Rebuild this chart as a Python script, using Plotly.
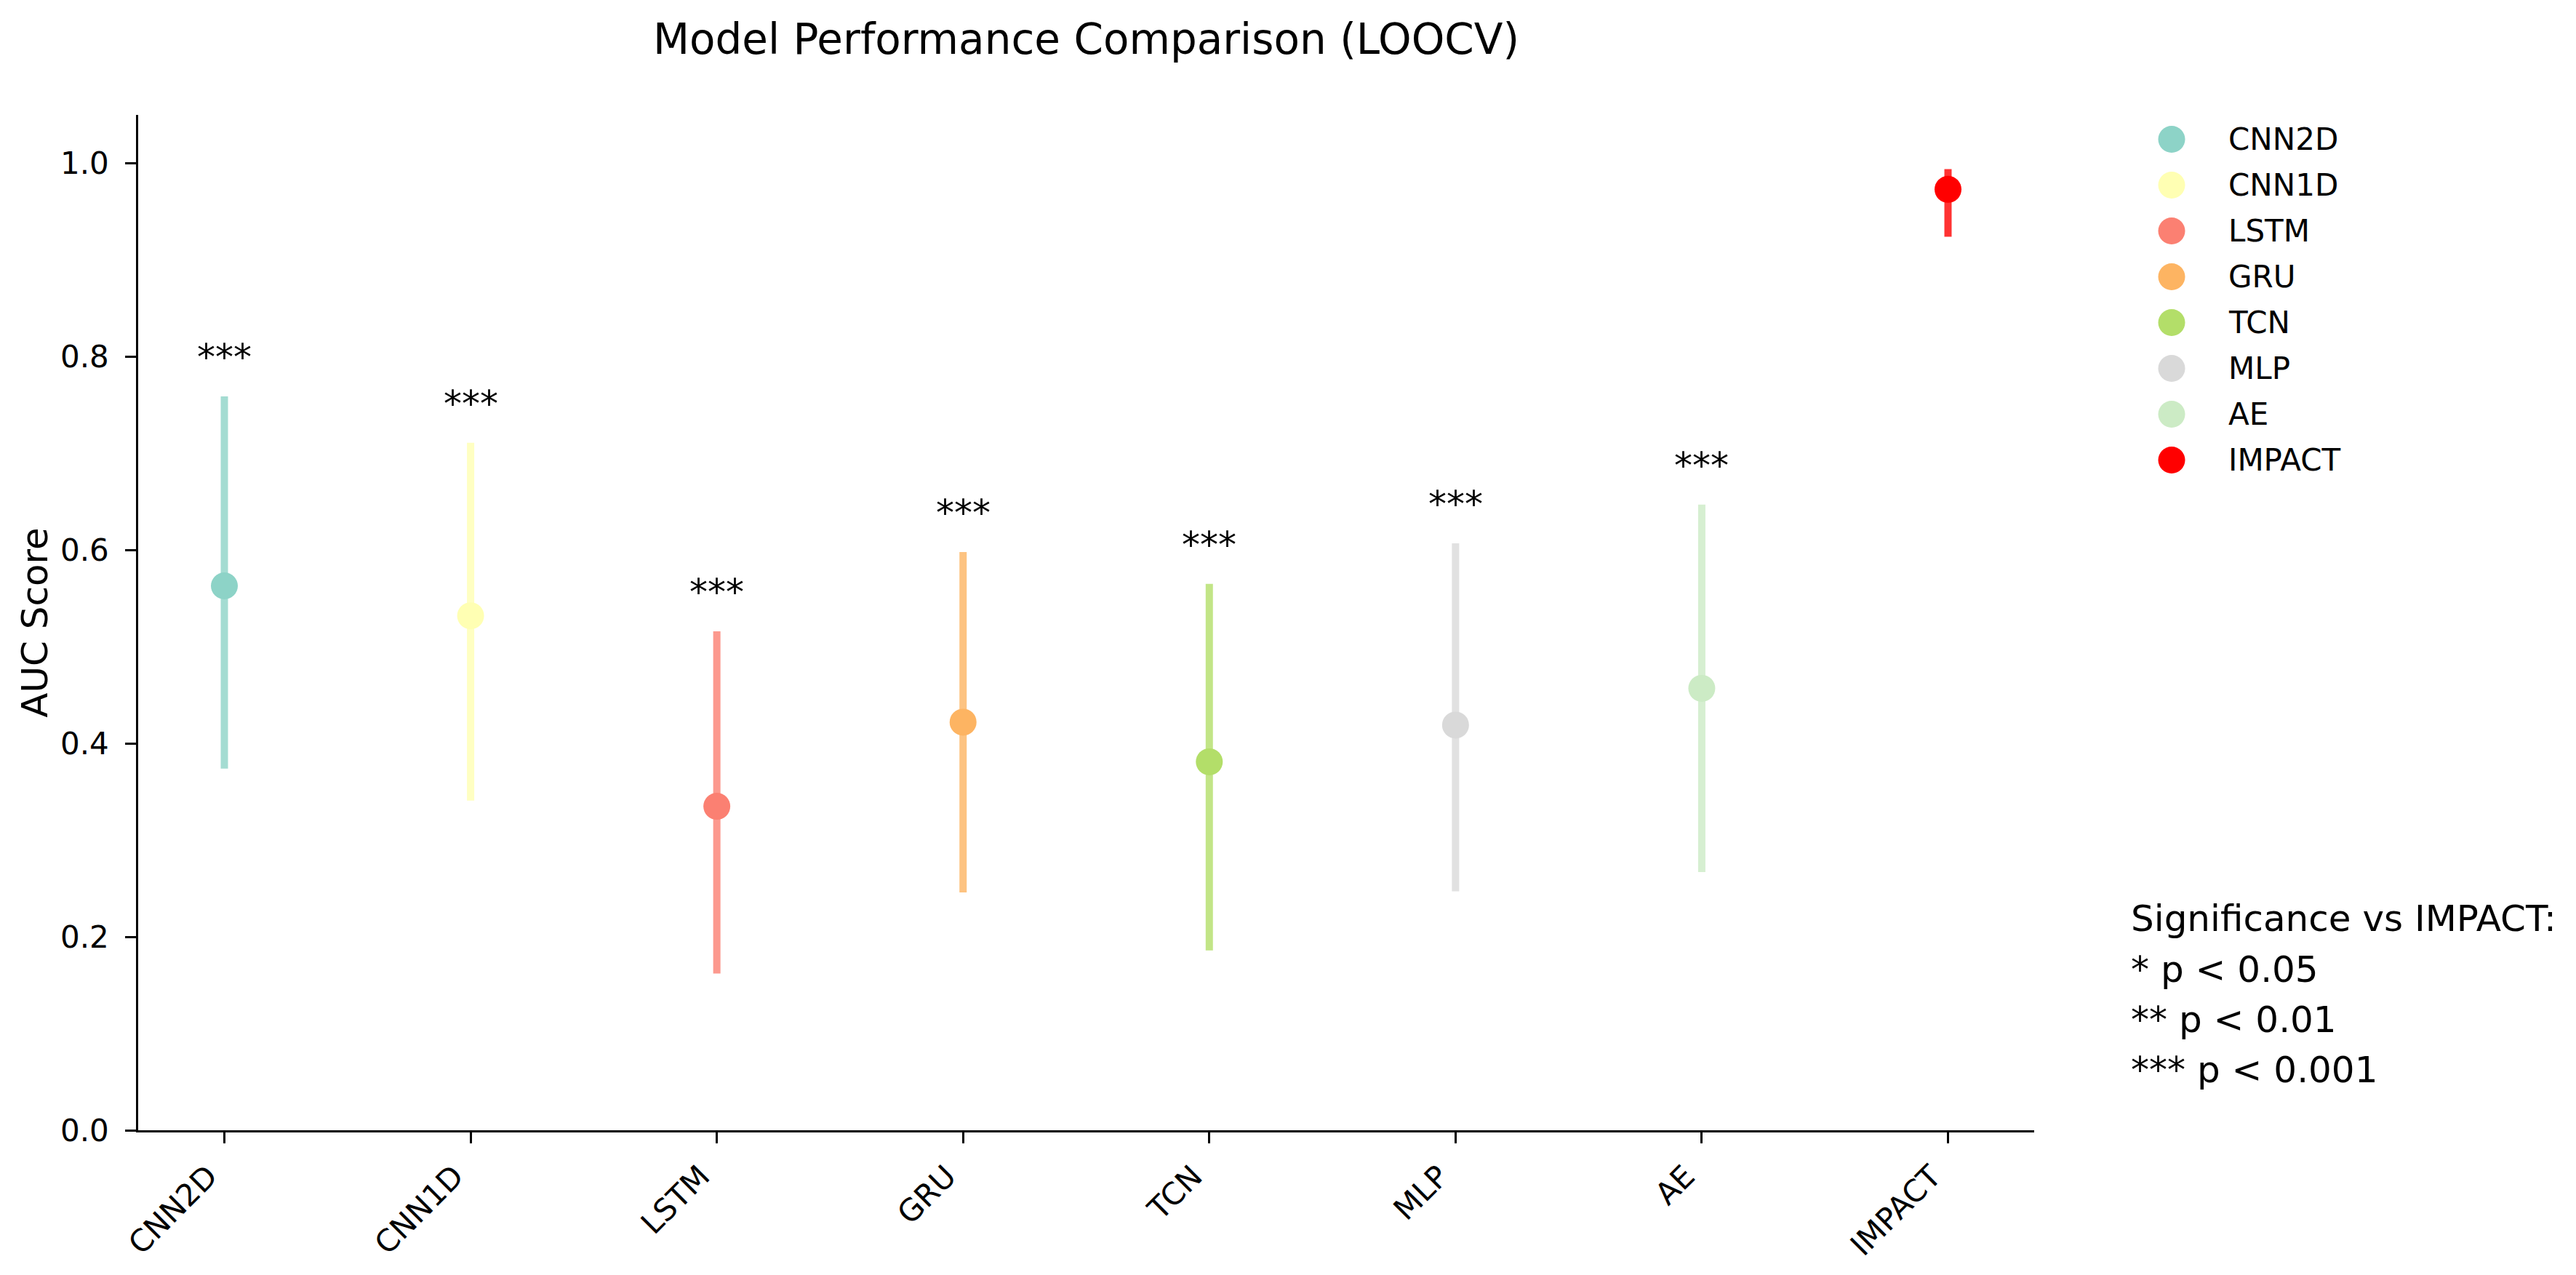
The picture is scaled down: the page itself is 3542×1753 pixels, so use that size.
import plotly.graph_objects as go

# ---- data ----
models = ["CNN2D", "CNN1D", "LSTM", "GRU", "TCN", "MLP", "AE", "IMPACT"]
auc_mean = [0.563, 0.532, 0.335, 0.422, 0.381, 0.419, 0.457, 0.973]
ci_low = [0.374, 0.341, 0.162, 0.246, 0.186, 0.247, 0.267, 0.924]
ci_high = [0.759, 0.711, 0.516, 0.598, 0.565, 0.607, 0.647, 0.994]
significance = ["***", "***", "***", "***", "***", "***", "***", ""]
colors = ["#8dd3c7", "#ffffb3", "#fb8072", "#fdb462", "#b3de69", "#d9d9d9", "#ccebc5", "#ff0000"]
y_ticks = [0.0, 0.2, 0.4, 0.6, 0.8, 1.0]
legend_note = ["Significance vs IMPACT:", "* p < 0.05", "** p < 0.01", "*** p < 0.001"]

FONT = "DejaVu Sans"
OFF = 8  # default body margin of the html page
SW, SH = 3542, 1753  # screen size
W, H = SW - OFF, SH - OFF
# screen-pixel layout targets, converted to figure pixels
ML = 190 - OFF
MT = 158 - OFF
MB = SH - 1554
MR = 6
plot_w = W - ML - MR
plot_h = H - MT - MB
ax_right_px = 2797 - OFF
x_dom_end = (ax_right_px - ML) / plot_w


def px_x(sx):
    return (sx - OFF - ML) / plot_w


def px_y(sy):
    return (H - MB - (sy - OFF)) / plot_h


def rgba(hexc, a):
    h = hexc.lstrip("#")
    r, g, b = int(h[0:2], 16), int(h[2:4], 16), int(h[4:6], 16)
    return f"rgba({r},{g},{b},{a})"


fig = go.Figure()
for i, m in enumerate(models):
    fig.add_trace(go.Scatter(
        x=[i], y=[auc_mean[i]], mode="markers", name=m, showlegend=False,
        marker=dict(color=colors[i], size=37, line=dict(width=0)),
        error_y=dict(type="data", symmetric=False,
                     array=[ci_high[i] - auc_mean[i]],
                     arrayminus=[auc_mean[i] - ci_low[i]],
                     color=rgba(colors[i], 0.8), thickness=10, width=0),
        xaxis="x", yaxis="y",
    ))

# significance stars
annotations = []
for i, s in enumerate(significance):
    if s:
        annotations.append(dict(x=i, y=ci_high[i] + 0.017, xref="x", yref="y",
                                text=s, showarrow=False, yanchor="bottom",
                                xanchor="center",
                                font=dict(family=FONT, size=50, color="black")))

# custom legend on an auxiliary hidden axis (index-driven)
fig.add_trace(go.Scatter(
    x=[50] * len(models), y=list(range(len(models))), mode="markers",
    marker=dict(color=colors, size=37, line=dict(width=0)),
    showlegend=False, hoverinfo="skip", xaxis="x2", yaxis="y2",
))
for i, m in enumerate(models):
    annotations.append(dict(x=126, y=i, xref="x2", yref="y2", text=m,
                            showarrow=False, xanchor="left", yanchor="middle",
                            font=dict(family=FONT, size=42, color="black")))

# significance note
note_px = [1263, 1333, 1402, 1471]
for txt, py in zip(legend_note, note_px):
    annotations.append(dict(x=px_x(2928), y=px_y(py), xref="paper", yref="paper",
                            text=txt, showarrow=False, xanchor="left", yanchor="middle",
                            font=dict(family=FONT, size=50, color="black")))

fig.update_layout(
    width=W, height=H,
    margin=dict(l=ML, r=MR, t=MT, b=MB),
    paper_bgcolor="white", plot_bgcolor="white",
    font=dict(family=FONT, color="black", size=42),
    title=dict(text="Model Performance Comparison (LOOCV)",
               x=x_dom_end / 2, xref="paper", xanchor="center",
               y=1 - (54 - OFF) / H, yref="container", yanchor="middle",
               font=dict(family=FONT, size=58, color="black")),
    xaxis=dict(domain=[0, x_dom_end], range=[-0.35, 7.35],
               tickmode="array", tickvals=list(range(len(models))), ticktext=models,
               tickangle=-45, tickfont=dict(family=FONT, size=42, color="black"),
               ticklabelshift=-22, ticklabelstandoff=4,
               showline=True, linecolor="black", linewidth=3.3,
               ticks="outside", ticklen=14.6, tickwidth=3.3, tickcolor="black",
               showgrid=False, zeroline=False),
    yaxis=dict(range=[0, 1.05], tickmode="array", tickvals=y_ticks,
               ticktext=[f"{v:.1f}" for v in y_ticks],
               tickfont=dict(family=FONT, size=42, color="black"),
               title=dict(text="AUC Score", font=dict(family=FONT, size=50, color="black"),
                          standoff=2),
               showline=True, linecolor="black", linewidth=3.3,
               ticks="outside", ticklen=14.6, tickwidth=3.3, tickcolor="black",
               ticklabelstandoff=14,
               showgrid=False, zeroline=False),
    xaxis2=dict(domain=[px_x(2936), px_x(3536)], range=[0, 600], anchor="y2",
                visible=False, fixedrange=True),
    yaxis2=dict(domain=[px_y(664), px_y(160)], range=[7.5, -0.5], anchor="x2",
                visible=False, fixedrange=True),
    annotations=annotations,
    showlegend=False,
)

fig.write_html("out.html")
